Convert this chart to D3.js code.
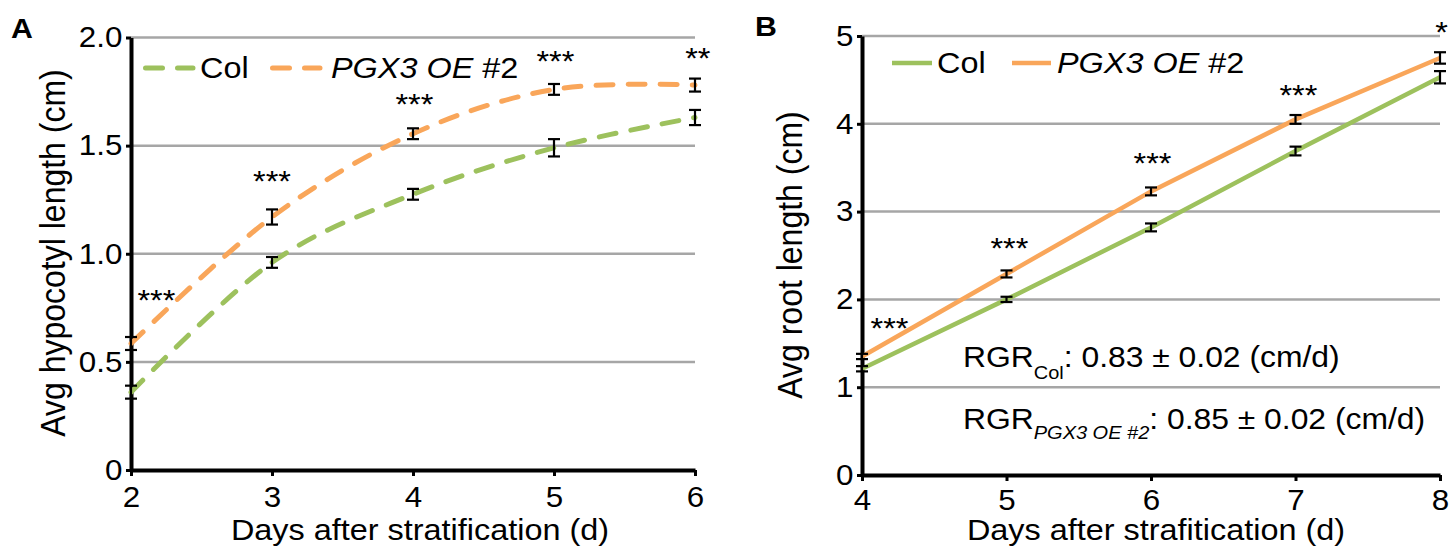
<!DOCTYPE html>
<html><head><meta charset="utf-8">
<script src="https://cdn.jsdelivr.net/npm/d3@7"></script>
<style>body{margin:0;background:#fff}</style>
</head><body><svg id="c" width="1455" height="548" style="display:block;background:#fff"></svg>
<script>
// ---------- data ----------
const seriesNames = ["Col", "PGX3 OE #2"];

const daysA = [2, 3, 4, 5, 6];
const colA = [0.36, 0.96, 1.275, 1.49, 1.63];
const colAerr = [0.03, 0.025, 0.025, 0.04, 0.035];
const pgxA = [0.585, 1.17, 1.555, 1.76, 1.78];
const pgxAerr = [0.03, 0.035, 0.025, 0.025, 0.03];
const yTicksA = [0, 0.5, 1.0, 1.5, 2.0];
const yLabelsA = ["0", "0.5", "1.0", "1.5", "2.0"];
const sigA = ["***", "***", "***", "***", "**"];
const sigAday = [2.18, 3, 4.01, 5.01, 6.02];
const sigAval = [0.74, 1.29, 1.646, 1.843, 1.859];

const daysB = [4, 5, 6, 7, 8];
const colB = [1.21, 2.0, 2.82, 3.69, 4.53];
const colBerr = [0.03, 0.03, 0.045, 0.05, 0.07];
const pgxB = [1.35, 2.29, 3.23, 4.05, 4.75];
const pgxBerr = [0.03, 0.04, 0.045, 0.05, 0.065];
const yTicksB = [0, 1, 2, 3, 4, 5];
const yLabelsB = ["0", "1", "2", "3", "4", "5"];
const sigB = ["***", "***", "***", "***", "*"];
const sigBday = [4.19, 5.02, 6.01, 7.02, 8.01];
const sigBval = [1.566, 2.47, 3.434, 4.214, 4.926];

// ---------- style ----------
const svg = d3.select("#c");
const SX = 1.08;
const FONT = '"Liberation Sans", Arial, Helvetica, sans-serif';
const GREEN = "#9dc15d", ORANGE = "#f9a65a", GRID = "#a6a6a6";

function stext(g, x, y, size, anchor) {
  return g.append("text")
    .attr("transform", `translate(${x},${y}) scale(${SX},1)`)
    .attr("font-family", FONT).attr("font-size", size)
    .attr("text-anchor", anchor || "start").attr("fill", "#000");
}

function panel(cfg) {
  const g = svg.append("g");
  const x = d3.scaleLinear().domain(cfg.xDomain).range(cfg.xRange);
  const y = d3.scaleLinear().domain(cfg.yDomain).range(cfg.yRange);

  // gridlines
  g.selectAll("line.grid").data(cfg.yTicks.filter(v => v > 0)).join("line")
    .attr("class", "grid")
    .attr("x1", x(cfg.xDomain[0])).attr("x2", x(cfg.xDomain[1]))
    .attr("y1", d => y(d)).attr("y2", d => y(d))
    .attr("stroke", GRID).attr("stroke-width", 2.5);

  // axes
  const ya = g.append("g").attr("transform", `translate(${x(cfg.xDomain[0])},0)`)
    .call(d3.axisLeft(y).tickValues(cfg.yTicks).tickFormat((d, i) => cfg.yLabels[i])
      .tickSizeInner(5).tickSizeOuter(0).tickPadding(3));
  const xa = g.append("g").attr("transform", `translate(0,${y(0)})`)
    .call(d3.axisBottom(x).tickValues(cfg.days).tickFormat(d3.format("d"))
      .tickSizeInner(6).tickSizeOuter(0).tickPadding(cfg.xPad));
  [ya, xa].forEach(a => {
    a.select(".domain").attr("stroke", "#000").attr("stroke-width", 4);
    a.selectAll(".tick line").attr("stroke", "#000").attr("stroke-width", 3);
    a.selectAll(".tick text").attr("font-family", FONT).attr("font-size", 29)
      .attr("fill", "#000").attr("transform", `scale(${SX},1)`);
  });

  // series lines
  const line = d3.line().x((d, i) => x(cfg.days[i])).y(d => y(d)).curve(cfg.curve);
  const series = [
    { v: cfg.col, e: cfg.colErr, c: GREEN },
    { v: cfg.pgx, e: cfg.pgxErr, c: ORANGE }
  ];
  series.forEach(s => {
    g.append("path").attr("d", line(s.v)).attr("fill", "none")
      .attr("stroke", s.c).attr("stroke-width", cfg.lw)
      .attr("stroke-linecap", cfg.dash ? "round" : "butt")
      .attr("stroke-dasharray", cfg.dash || null);
  });
  // error bars
  series.forEach(s => {
    const eb = g.append("g");
    s.v.forEach((v, i) => {
      const cx = x(cfg.days[i]);
      eb.append("line").attr("x1", cx).attr("x2", cx)
        .attr("y1", y(v - s.e[i])).attr("y2", y(v + s.e[i]))
        .attr("stroke", "#000").attr("stroke-width", 2.2);
      [v - s.e[i], v + s.e[i]].forEach(w => {
        eb.append("line").attr("x1", cx - 6).attr("x2", cx + 6)
          .attr("y1", y(w)).attr("y2", y(w))
          .attr("stroke", "#000").attr("stroke-width", 2.2);
      });
    });
  });
  // significance
  cfg.sig.forEach((s, i) => {
    stext(g, x(cfg.sigDay[i]), y(cfg.sigVal[i]), 30, "middle").text(s);
  });

  // legend
  const L = cfg.legend;
  const items = [{ c: GREEN, x0: L.g0, x1: L.g1, tx: L.gt }, { c: ORANGE, x0: L.o0, x1: L.o1, tx: L.ot }];
  items.forEach((it, k) => {
    g.append("line").attr("x1", it.x0).attr("x2", it.x1).attr("y1", L.y).attr("y2", L.y)
      .attr("stroke", it.c).attr("stroke-width", cfg.lw)
      .attr("stroke-linecap", cfg.dash ? "round" : "butt")
      .attr("stroke-dasharray", cfg.dash || null);
    const t = stext(g, it.tx, L.ty, 30);
    if (k === 0) t.text(seriesNames[0]);
    else {
      t.append("tspan").attr("font-style", "italic").text("PGX3 OE");
      t.append("tspan").text(" #2");
    }
  });

  // axis titles
  stext(g, cfg.xTitleX, 540, 30, "middle").text(cfg.xTitle);
  g.append("text")
    .attr("transform", `translate(${cfg.yTitleX},${cfg.yTitleY}) scale(${SX},1) rotate(-90)`)
    .attr("font-family", FONT).attr("font-size", 32).attr("text-anchor", "middle")
    .attr("fill", "#000").text(cfg.yTitle);

  // panel letter
  g.append("text").attr("transform", `translate(${cfg.letterX},${cfg.letterY}) scale(${SX},1)`)
    .attr("font-family", FONT).attr("font-size", 28).attr("font-weight", "bold")
    .attr("fill", "#000").text(cfg.letter);
  return { g, x, y };
}

panel({
  days: daysA, col: colA, colErr: colAerr, pgx: pgxA, pgxErr: pgxAerr,
  xDomain: [2, 6], xRange: [131, 695], yDomain: [0, 2], yRange: [470, 37.5],
  yTicks: yTicksA, yLabels: yLabelsA, xPad: 10,
  curve: d3.curveCardinal.tension(0), lw: 5, dash: "17,15",
  sig: sigA, sigDay: sigAday, sigVal: sigAval,
  legend: { y: 68, ty: 78, g0: 145.5, g1: 193, gt: 200, o0: 272.5, o1: 320, ot: 331 },
  xTitle: "Days after stratification (d)", xTitleX: 420,
  yTitle: "Avg hypocotyl length (cm)", yTitleX: 65, yTitleY: 253,
  letter: "A", letterX: 11, letterY: 38
});

const pB = panel({
  days: daysB, col: colB, colErr: colBerr, pgx: pgxB, pgxErr: pgxBerr,
  xDomain: [4, 8], xRange: [862, 1440], yDomain: [0, 5], yRange: [475, 36],
  yTicks: yTicksB, yLabels: yLabelsB, xPad: 8,
  curve: d3.curveLinear, lw: 4.5, dash: null,
  sig: sigB, sigDay: sigBday, sigVal: sigBval,
  legend: { y: 63, ty: 73, g0: 892, g1: 932, gt: 937, o0: 1012, o1: 1051, ot: 1057 },
  xTitle: "Days after strafitication (d)", xTitleX: 1156,
  yTitle: "Avg root length (cm)", yTitleX: 802, yTitleY: 255,
  letter: "B", letterX: 755, letterY: 36
});

// RGR annotations
const r1 = stext(pB.g, 963, 367, 29.5);
r1.append("tspan").text("RGR");
r1.append("tspan").attr("font-size", 18.5).attr("dy", 12).text("Col");
r1.append("tspan").attr("dy", -12).text(": 0.83 ± 0.02 (cm/d)");
const r2 = stext(pB.g, 963, 429, 29.5);
r2.append("tspan").text("RGR");
r2.append("tspan").attr("font-size", 18.5).attr("dy", 10).attr("font-style", "italic").text("PGX3 OE #2");
r2.append("tspan").attr("dy", -10).text(": 0.85 ± 0.02 (cm/d)");
</script>
</body></html>
